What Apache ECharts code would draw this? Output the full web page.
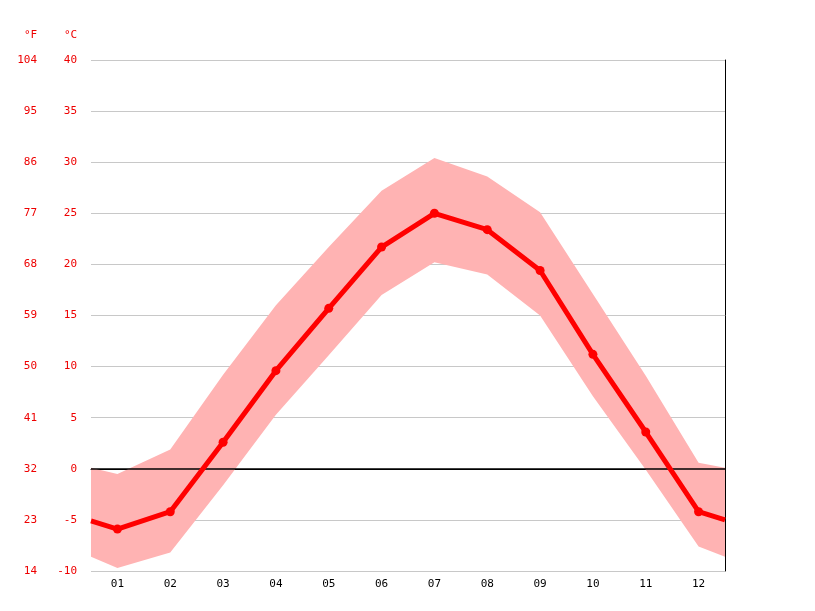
<!DOCTYPE html>
<html><head><meta charset="utf-8">
<script src="https://cdn.jsdelivr.net/npm/echarts@6/dist/echarts.min.js"></script>
<style>html,body{margin:0;padding:0;background:#fff}#c{width:815px;height:611px}</style>
</head><body><div id="c"></div>
<script>
const months = ['01','02','03','04','05','06','07','08','09','10','11','12'];
const meanEdgeL = -5.1, meanEdgeR = -5.0;
const meanT = [-5.9,-4.2,2.6,9.6,15.7,21.7,25.0,23.4,19.4,11.2,3.6,-4.2];
const maxEdgeL = 0.1, maxEdgeR = 0.1;
const maxT = [-0.5,1.9,9.2,16.0,21.7,27.2,30.4,28.6,25.1,17.1,9.1,0.6];
const minEdgeL = -8.6, minEdgeR = -8.6;
const minT = [-9.7,-8.2,-1.6,5.3,11.1,17.0,20.2,19.0,15.0,7.1,-0.1,-7.6];
const fLabels = {'-10':14,'-5':23,'0':32,'5':41,'10':50,'15':59,'20':68,'25':77,'30':86,'35':95,'40':104};

function build(l, arr, r){
  const out=[[0,l]];
  arr.forEach((v,i)=>out.push([2*i+1,v]));
  out.push([24,r]);
  return out;
}
const meanD = build(meanEdgeL, meanT, meanEdgeR);
const minD = build(minEdgeL, minT, minEdgeR);
const maxD = build(maxEdgeL, maxT, maxEdgeR);
const bandD = maxD.map((p,i)=>[p[0], minD[i][1], p[1]]);

const font = 'DejaVu Sans Mono';
const chart = echarts.init(document.getElementById('c'));
chart.setOption({
  animation:false,
  grid:{left:91,right:90,top:60,bottom:40},
  graphic:[
    {type:'text',left:24,top:30,style:{text:'°F',fill:'#e00',font:'11px "DejaVu Sans Mono"'}},
    {type:'text',left:64,top:30,style:{text:'°C',fill:'#e00',font:'11px "DejaVu Sans Mono"'}}
  ],
  xAxis:[
    {type:'category',data:months,boundaryGap:true,
     axisLine:{lineStyle:{color:'#000'}},axisTick:{lineStyle:{color:'#000'},length:5},
     axisLabel:{color:'#000',fontFamily:font,fontSize:11,margin:8},splitLine:{show:false}},
    {type:'value',min:0,max:24,show:false}
  ],
  yAxis:[
    {type:'value',min:-10,max:40,interval:5,position:'left',
     axisLine:{show:false},axisTick:{show:false},
     axisLabel:{color:'#e00',fontFamily:font,fontSize:11,margin:14},
     splitLine:{lineStyle:{color:'#c8c8c8'}}},
    {type:'value',min:-10,max:40,interval:5,position:'left',offset:40,
     axisLine:{show:false},axisTick:{show:false},splitLine:{show:false},
     axisLabel:{color:'#e00',fontFamily:font,fontSize:11,margin:14,formatter:v=>fLabels[String(v)]}},
    {type:'value',min:-10,max:40,interval:5,position:'right',
     axisLine:{show:true,lineStyle:{color:'#000'}},axisTick:{show:false},axisLabel:{show:false},splitLine:{show:false}}
  ],
  series:[
    {type:'custom',xAxisIndex:1,data:bandD,encode:{x:0,y:[1,2]},
     renderItem:function(params, api){
       if(params.dataIndex!==0) return null;
       const top=[], bot=[];
       bandD.forEach(d=>{top.push(api.coord([d[0],d[2]])); bot.push(api.coord([d[0],d[1]]));});
       return {type:'polygon',shape:{points:top.concat(bot.reverse())},style:{fill:'#ffb3b3'}};
     }},
    {type:'line',xAxisIndex:1,data:meanD.map((p,i)=>(i===0||i===meanD.length-1)?{value:p,symbol:'none'}:p),
     symbol:'circle',symbolSize:9,
     lineStyle:{color:'#f00',width:5},itemStyle:{color:'#f00'},z:5,
     markLine:{silent:true,symbol:'none',label:{show:false},lineStyle:{color:'#000',width:1.5,type:'solid'},data:[{yAxis:0}],z:4}}
  ]
});
</script></body></html>
